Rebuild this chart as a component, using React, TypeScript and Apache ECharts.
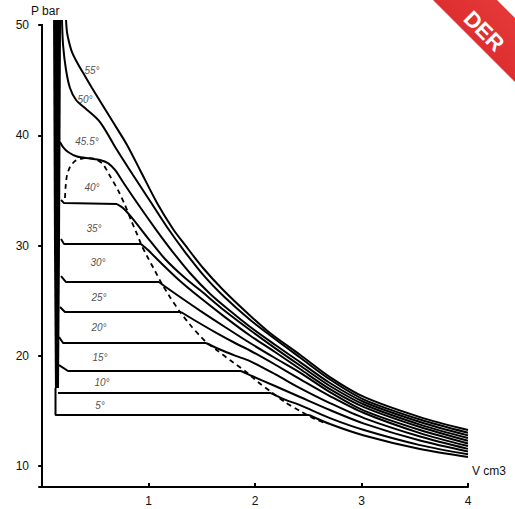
import React, { useEffect, useRef } from "react";
import * as echarts from "echarts";

// Axis ticks
const xTicks = [1, 2, 3, 4];
const yTicks = [10, 20, 30, 40, 50];

// Isotherms [V cm3, P bar]
const iso55 = [[0.224,50.45],[0.233,49.36],[0.252,48.46],[0.28,47.55],[0.336,46.46],[0.402,45.37],[0.468,44.29],[0.543,43.11],[0.665,41.2],[0.797,39.12],[0.919,36.85],[1.079,33.86],[1.229,31.5],[1.342,30.05],[1.511,27.96],[1.698,25.99],[1.924,23.9],[2.14,22.06],[2.422,20.09],[2.703,18.07],[3.023,16.27],[3.549,14.44],[4.0,13.27]];
const iso50 = [[0.186,50.45],[0.196,48.19],[0.224,45.92],[0.261,44.29],[0.318,43.2],[0.402,42.47],[0.543,41.2],[0.703,38.66],[0.853,36.39],[1.013,34.04],[1.172,31.68],[1.342,29.41],[1.529,27.15],[1.717,25.28],[1.952,23.27],[2.187,21.52],[2.422,19.84],[2.703,17.85],[3.023,16.03],[3.549,14.22],[4.0,13.02]];
const iso45 = [[0.167,39.39],[0.196,38.93],[0.243,38.48],[0.327,38.07],[0.449,37.89],[0.543,37.76],[0.618,37.48],[0.684,36.85],[0.759,35.76],[0.919,33.49],[1.079,31.31],[1.22,29.5],[1.388,27.51],[1.576,25.63],[1.764,24.08],[1.952,22.63],[2.187,21.0],[2.422,19.43],[2.703,17.53],[3.023,15.81],[3.549,14.0],[4.0,12.78]];
const iso40 = [[0.177,34.13],[0.205,33.85],[0.703,33.76],[0.759,33.4],[0.853,32.4],[0.985,30.77],[1.154,28.78],[1.342,27.05],[1.482,25.96],[1.717,24.06],[1.952,22.34],[2.187,20.7],[2.422,19.12],[2.703,17.26],[3.023,15.58],[3.549,13.76],[4.0,12.54]];
const iso35 = [[0.177,30.59],[0.205,30.14],[0.928,30.14],[0.994,29.59],[1.107,28.5],[1.295,26.78],[1.482,25.28],[1.717,23.51],[1.952,21.84],[2.187,20.34],[2.422,18.8],[2.703,16.98],[3.023,15.35],[3.549,13.54],[4.0,12.29]];
const iso30 = [[0.177,27.23],[0.224,26.69],[1.097,26.69],[1.154,26.28],[1.295,25.33],[1.482,24.1],[1.717,22.61],[1.952,21.16],[2.187,19.8],[2.422,18.48],[2.703,16.71],[3.023,15.03],[3.549,13.27],[4.0,12.05]];
const iso25 = [[0.167,24.42],[0.214,23.97],[1.304,23.97],[1.435,23.2],[1.623,22.15],[1.811,21.16],[1.952,20.48],[2.187,19.21],[2.422,17.89],[2.703,16.35],[3.023,14.81],[3.549,12.99],[4.0,11.81]];
const iso20 = [[0.158,21.7],[0.196,21.16],[1.539,21.16],[1.67,20.57],[1.811,20.02],[1.952,19.52],[2.187,18.34],[2.422,17.07],[2.703,15.71],[3.023,14.35],[3.549,12.68],[4.0,11.56]];
const iso15 = [[0.158,19.16],[0.243,18.62],[1.867,18.62],[1.952,18.25],[2.187,17.26],[2.422,16.26],[2.703,15.08],[3.023,13.85],[3.549,12.31],[4.0,11.32]];
const iso10 = [[0.149,16.62],[2.149,16.62],[2.281,16.03],[2.422,15.53],[2.703,14.35],[3.023,13.27],[3.549,11.9],[4.0,11.07]];
const iso5 = [[0.125,17.07],[0.125,14.63],[2.507,14.63],[2.703,13.81],[3.023,12.77],[3.549,11.54],[4.0,10.82]];

// Index in each isotherm where the smooth (gas) branch begins
const gasStart = [0, 0, 0, 2, 2, 2, 2, 2, 2, 1, 2];

// Saturation dome (dashed)
const dome = [[0.214,34.31],[0.219,35.22],[0.233,36.39],[0.261,37.12],[0.308,37.66],[0.402,37.94],[0.496,37.85],[0.571,37.39],[0.637,36.3],[0.712,35.03],[0.778,33.67],[0.834,32.31],[0.891,31.04],[0.937,29.95],[0.994,28.87],[1.06,27.69],[1.125,26.51],[1.2,25.33],[1.295,23.97],[1.407,22.61],[1.529,21.34],[1.651,20.43],[1.764,19.61],[1.905,18.62],[2.027,17.62],[2.14,16.8],[2.281,15.8],[2.422,14.99],[2.563,14.26],[2.657,13.9]];

// Liquid branch (thick bar outline)
const liquidBar = [[0.102,50.45],[0.177,50.45],[0.167,29.59],[0.158,17.07],[0.12,17.07],[0.111,29.59]];

// Temperature labels [V, P, text]
const tempLabels = [
  [0.468,45.83,"55°"],[0.402,43.2,"50°"],[0.421,39.39,"45.5°"],[0.468,35.22,"40°"],
  [0.487,31.5,"35°"],[0.524,28.5,"30°"],[0.534,25.33,"25°"],[0.534,22.61,"20°"],
  [0.543,19.88,"15°"],[0.562,17.62,"10°"],[0.543,15.53,"5°"],
];

const isotherms = [iso55, iso50, iso45, iso40, iso35, iso30, iso25, iso20, iso15, iso10, iso5];

const FONT = "Liberation Sans, Arial, sans-serif";

export default function App() {
  const ref = useRef<HTMLDivElement>(null);
  useEffect(() => {
    if (!ref.current) return;
    const chart = echarts.init(ref.current, undefined, { renderer: "svg" });
    const base = {
      type: "line",
      symbol: "none",
      showSymbol: false,
      clip: false,
      silent: true,
      lineStyle: { color: "#000", width: 2 },
      z: 3,
    };
    const lineSeries: any[] = [];
    isotherms.forEach((d, i) => {
      const k = gasStart[i];
      if (k > 0) {
        lineSeries.push({ ...base, name: "liq" + i, data: d.slice(0, k + 1) });
      }
      lineSeries.push({ ...base, name: "gas" + i, data: d.slice(k), smooth: 0.3 });
    });
    chart.setOption({
      animation: false,
      backgroundColor: "#fff",
      grid: { left: 39, right: 47, top: 25, bottom: 22 },
      xAxis: {
        type: "value",
        min: -0.03,
        max: 4,
        axisLine: { show: true, lineStyle: { color: "#000", width: 2 } },
        axisTick: { show: true, inside: true, length: 4, customValues: xTicks, lineStyle: { color: "#000", width: 2 } },
        axisLabel: { show: true, customValues: xTicks, margin: 8, fontSize: 12, color: "#111", fontFamily: FONT },
        splitLine: { show: false },
      },
      yAxis: [
        {
          type: "value",
          min: 8.1,
          max: 50,
          position: "left",
          name: "P bar",
          nameLocation: "end",
          nameGap: 8,
          nameTextStyle: { color: "#111", fontSize: 12, fontFamily: FONT, align: "center", padding: [0, 0, 0, 6] },
          axisLine: { show: true, lineStyle: { color: "#000", width: 2 } },
          axisTick: { show: true, length: 4, customValues: yTicks, lineStyle: { color: "#000", width: 2 } },
          axisLabel: { show: true, customValues: yTicks, margin: 10, fontSize: 12, color: "#111", fontFamily: FONT },
          splitLine: { show: false },
        },
        {
          type: "value",
          min: 8.1,
          max: 50,
          position: "left",
          offset: 0,
          axisLine: { show: false },
          axisTick: { show: true, inside: true, length: 4, customValues: yTicks, lineStyle: { color: "#000", width: 2 } },
          axisLabel: { show: false },
          splitLine: { show: false },
        },
      ],
      series: [
        ...lineSeries,
        {
          type: "line",
          name: "dome",
          data: dome,
          symbol: "none",
          showSymbol: false,
          clip: false,
          silent: true,
          smooth: 0.2,
          lineStyle: { color: "#000", width: 1.8, type: [5, 4] },
          z: 4,
        },
        {
          type: "custom",
          name: "liquid",
          coordinateSystem: "cartesian2d",
          data: [liquidBar[0]],
          clip: false,
          silent: true,
          z: 5,
          renderItem: (_params: any, api: any) => ({
            type: "polygon",
            shape: { points: liquidBar.map((p) => api.coord(p)) },
            style: { fill: "#000" },
          }),
        },
        {
          type: "scatter",
          name: "labels",
          data: tempLabels,
          symbol: "circle",
          symbolSize: 1,
          itemStyle: { color: "rgba(0,0,0,0)" },
          clip: false,
          silent: true,
          z: 6,
          label: {
            show: true,
            position: "inside",
            formatter: (p: any) => p.value[2],
            fontSize: 10,
            fontStyle: "italic",
            color: "#222",
            textBorderWidth: 0,
            textBorderColor: "rgba(0,0,0,0)",
            fontFamily: FONT,
          },
        },
      ],
      graphic: [
        {
          type: "text",
          silent: true,
          x: 472,
          y: 471,
          style: {
            text: "V cm3",
            fill: "#111",
            font: "12px Liberation Sans, Arial, sans-serif",
            textAlign: "left",
            textVerticalAlign: "middle",
            align: "left",
            verticalAlign: "middle",
          },
        },
        {
          type: "polygon",
          z: 100,
          silent: true,
          shape: { points: [[433, 0], [497, 0], [515, 18], [515, 82]] },
          style: {
            fill: new echarts.graphic.LinearGradient(0, 1, 1, 0, [
              { offset: 0, color: "#a11b1e" },
              { offset: 0.35, color: "#dc2a2d" },
              { offset: 1, color: "#e53b3b" },
            ]),
          },
        },
        {
          type: "text",
          z: 101,
          silent: true,
          x: 484,
          y: 31,
          rotation: -Math.PI / 4,
          style: {
            text: "DER",
            fill: "#fff",
            font: "bold 22px Liberation Sans, Arial, sans-serif",
            textAlign: "center",
            textVerticalAlign: "middle",
            align: "center",
            verticalAlign: "middle",
          },
        },
      ],
    });
    return () => chart.dispose();
  }, []);
  return (
    <div
      ref={ref}
      style={{ position: "absolute", left: 0, top: 0, width: 515, height: 509, background: "#fff" }}
    />
  );
}
